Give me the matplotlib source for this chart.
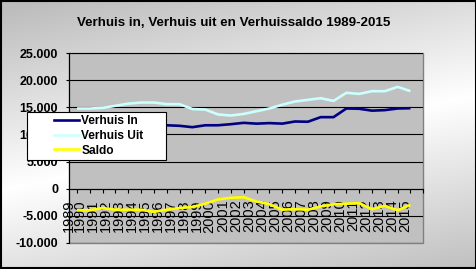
import numpy as np
import matplotlib
matplotlib.use("Agg")
import matplotlib.pyplot as plt
from matplotlib.patches import Rectangle
from matplotlib.lines import Line2D

plt.rcParams['font.family'] = ['Liberation Sans', 'DejaVu Sans']

# data
years = [str(y) for y in range(1989, 2016)]
verhuis_in = [10800, 10800, 11300, 11400, 11800, 12000, 11600, 11700, 11600, 11350,
              11700, 11700, 11900, 12150, 12000, 12100, 12000, 12400, 12350, 13200,
              13200, 14800, 14750, 14400, 14500, 14800, 14850]
verhuis_uit = [14800, 14800, 14900, 15300, 15700, 15900, 15900, 15600, 15600, 14700,
               14600, 13700, 13500, 13800, 14300, 14800, 15500, 16100, 16400, 16700,
               16200, 17700, 17500, 18000, 18000, 18800, 18000]
saldo = [-4000, -4000, -3600, -3900, -3900, -3900, -4300, -3900, -3600, -3400,
         -2800, -2000, -1700, -1600, -2400, -2900, -3900, -3800, -3900, -3300,
         -2900, -2800, -2700, -3800, -3200, -4000, -3000]
y_ticks = [-10000, -5000, 0, 5000, 10000, 15000, 20000, 25000]
series_names = ['Verhuis In', 'Verhuis Uit', 'Saldo']
series_colors = ['#000080', '#ccffff', '#ffff00']

W, H = 477, 269
fig = plt.figure(figsize=(W / 100, H / 100), dpi=100)

# diagonal grey-white-grey background
bg = fig.add_axes([0, 0, 1, 1], zorder=-5)
bg.set_axis_off()
xx, yy = np.meshgrid(np.arange(W), np.arange(H))
d = yy - (190 - 95 * xx / W)
t = np.clip(np.abs(d) / 180.0, 0, 1)
grey = 1 - 0.26 * t
bg.imshow(np.dstack([grey, grey, grey]), aspect='auto', extent=[0, 1, 0, 1],
          interpolation='bilinear')
bg.set_xlim(0, 1)
bg.set_ylim(0, 1)

ax = fig.add_axes([69.3 / W, 1 - 242.7 / H, (423.3 - 69.3) / W, (242.7 - 53.3) / H])
ax.set_facecolor('#c0c0c0')
ax.patch.set_edgecolor('#808080')
ax.patch.set_linewidth(1.0)

x = np.arange(len(years))
for vals, name, col in zip([verhuis_in, verhuis_uit, saldo], series_names, series_colors):
    ax.plot(x, vals, color=col, lw=1.9, label=name, solid_capstyle='butt')

ax.set_xlim(0, len(years))
ax.set_ylim(-10000, 25000)
ax.set_yticks(y_ticks)
ax.set_yticklabels(['{:,}'.format(v).replace(',', '.') for v in y_ticks],
                   fontsize=9, fontweight='bold')
ax.grid(axis='y', color='black', lw=0.8)
ax.set_axisbelow(True)

for s in ['top', 'right']:
    ax.spines[s].set_visible(False)
ax.spines['left'].set_color('black')
ax.spines['left'].set_linewidth(0.8)
ax.spines['bottom'].set_position(('data', 0))
ax.spines['bottom'].set_color('black')
ax.spines['bottom'].set_linewidth(0.8)
ax.tick_params(axis='y', length=2.5, width=0.8, pad=5.5)

# category ticks at each point, year labels slightly left of them
ax.set_xticks(np.arange(len(years) + 1))
ax.set_xticklabels([])
ax.tick_params(axis='x', which='major', length=3, width=0.8, direction='out')
label_pos = [-0.6] + [i - 0.8 + (i - 1) * 0.015 for i in range(1, len(years))]
ax.set_xticks(label_pos, minor=True)
ax.set_xticklabels(years, minor=True, rotation=90, fontsize=10.5)
ax.tick_params(axis='x', which='minor', length=0, pad=8)

fig.text(233.5 / W, 1 - 22.7 / H, 'Verhuis in, Verhuis uit en Verhuissaldo 1989-2015',
         ha='center', va='center', fontsize=9.6, fontweight='bold')

# legend box
fig.patches.append(Rectangle((26.7 / W, 1 - 160 / H), (166 - 26.7) / W, (160 - 112.3) / H,
                             transform=fig.transFigure, facecolor='white',
                             edgecolor='black', lw=0.8, zorder=3))
handles = [Line2D([], [], color=c, lw=1.9) for c in series_colors]
leg = fig.legend(handles, series_names, loc='upper left',
                 bbox_to_anchor=(52 / W, 1 - 112.5 / H), frameon=False,
                 prop={'size': 8.6, 'weight': 'bold'}, handlelength=2.1,
                 handletextpad=0.15, labelspacing=0.24, borderpad=0.2,
                 borderaxespad=0)
leg.set_zorder(4)

# outer frame
fig.patches.append(Rectangle((0.002, 0.003), 0.995, 0.994, transform=fig.transFigure,
                             fill=False, edgecolor='black', lw=1.5, zorder=5))

fig.savefig('out.png', dpi=100)
